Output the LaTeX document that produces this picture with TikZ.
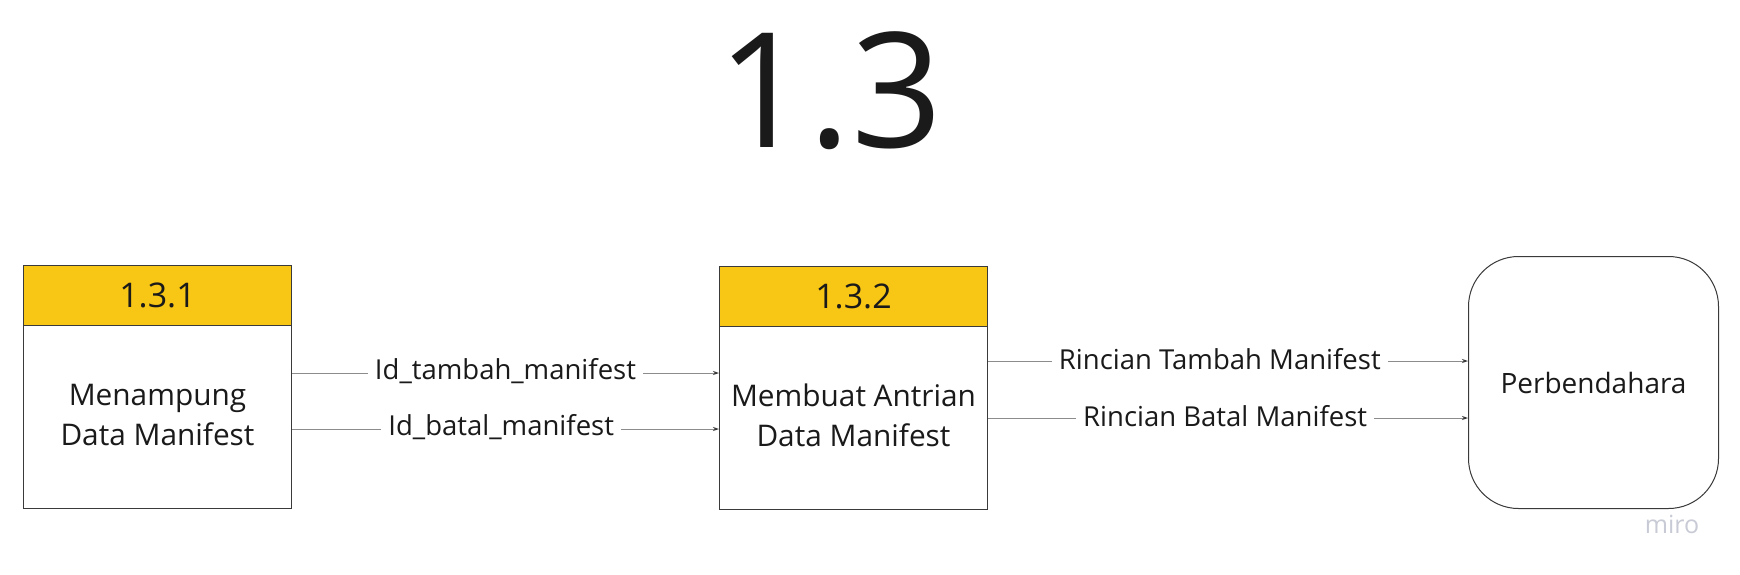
\documentclass[tikz,border=0pt]{standalone}
\usepackage{fontspec}
\setmainfont{Open Sans}
\usetikzlibrary{arrows.meta}
\definecolor{hdr}{HTML}{F8C614}
\definecolor{ink}{HTML}{1A1A1A}
\definecolor{edgec}{HTML}{3A3A3A}
\definecolor{wire}{HTML}{8C8C8C}
\definecolor{mirogray}{HTML}{C8CBD5}
\begin{document}
\begin{tikzpicture}[x=1pt,y=-1pt,
  hdrbox/.style={draw=edgec, fill=hdr, line width=1pt, minimum width=268pt, minimum height=60pt, inner sep=0pt, anchor=north west, font=\fontsize{34}{40}\selectfont, text=ink},
  bodybox/.style={draw=edgec, fill=white, line width=1pt, minimum width=268pt, minimum height=183pt, inner sep=0pt, text depth=5pt, anchor=north west, align=center, font=\fontsize{29.8}{40}\selectfont, text=ink},
  extbox/.style={draw=edgec, fill=white, line width=1pt, rounded corners=50pt, minimum width=250pt, minimum height=252pt, inner sep=0pt, anchor=north west, font=\fontsize{28}{34}\selectfont, text=ink},
  flow/.style={draw=wire, line width=1pt, -{Stealth[length=6pt,width=4pt,color=edgec]}},
  lbl/.style={fill=white, inner xsep=7pt, inner ysep=1pt, yshift=1.5pt, font=\fontsize{27.5}{30}\selectfont, text=ink}
]
\useasboundingbox[fill=white] (0,0) rectangle (1740,574);
\node[font=\fontsize{160}{160}\selectfont, text=ink, anchor=base] (title) at (830,147) {1.3};

\node[bodybox] (b1) at (23,325) {Menampung\\Data Manifest};
\node[hdrbox] (h1) at (23,265) {1.3.1};
\node[bodybox] (b2) at (719,326) {Membuat Antrian\\Data Manifest};
\node[hdrbox] (h2) at (719,266) {1.3.2};
\node[extbox] (p) at (1468,256) {Perbendahara};

\coordinate (ya) at (0,373);
\coordinate (yb) at (0,429);
\coordinate (yc) at (0,361);
\coordinate (yd) at (0,418);

\draw[flow] (b1.east |- ya) -- node[lbl] {Id\_tambah\_manifest} (b2.west |- ya);
\draw[flow] (b1.east |- yb) -- node[lbl, pos=0.49] {Id\_batal\_manifest} (b2.west |- yb);
\draw[flow] (b2.east |- yc) -- node[lbl, pos=0.483] {Rincian Tambah Manifest} (p.west |- yc);
\draw[flow] (b2.east |- yd) -- node[lbl, pos=0.494] {Rincian Batal Manifest} (p.west |- yd);

\node[text=mirogray, font=\fontsize{25}{25}\selectfont, anchor=base] (miro) at (1672,533) {miro};
\end{tikzpicture}
\end{document}
